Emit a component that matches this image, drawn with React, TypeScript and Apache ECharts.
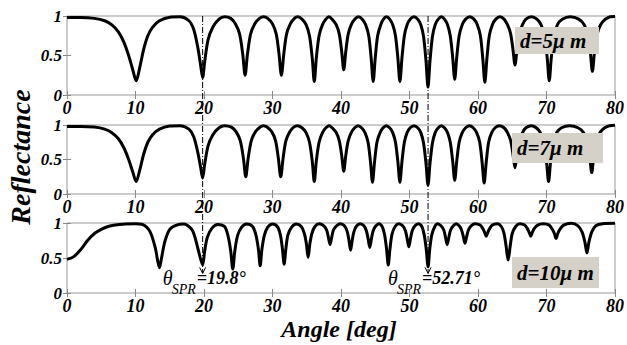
import React, { useEffect, useRef } from "react";
import * as echarts from "echarts";

const angleMin = 0;
const angleMax = 80;
const angleStep = 10;
const reflMin = 0;
const reflMax = 1;
const reflStep = 0.5;
const panelLabels = ["d=5\u03bc m", "d=7\u03bc m", "d=10\u03bc m"];
const sprAngles = [19.8, 52.71];
const sprTexts = ["=19.8\u00b0", "=52.71\u00b0"];
const yTitle = "Reflectance";
const xTitle = "Angle [deg]";

const d5: number[][] = [
  [0, 0.98], [2, 0.98], [4, 0.97], [5.5, 0.94], [6.5, 0.89], [7.5, 0.8], [8.3, 0.67], [9, 0.5], [9.6, 0.32], [10.1, 0.18], [10.6, 0.34], [11.2, 0.58], [11.8, 0.75], [12.5, 0.86], [13.5, 0.94], [15, 0.985], [16.5, 0.99],
  [17.8, 0.94], [18.5, 0.83], [19.1, 0.6], [19.5, 0.38], [19.8, 0.22], [20.1, 0.42], [20.6, 0.7], [21.3, 0.86], [22.2, 0.96], [23, 0.99],
  [23.9, 0.97], [24.6, 0.9], [25.2, 0.77], [25.65, 0.52], [26.0, 0.25], [26.35, 0.52], [26.8, 0.77], [27.4, 0.9], [28.1, 0.97], [28.7, 0.99],
  [29.3, 0.97], [30.0, 0.9], [30.55, 0.77], [30.95, 0.52], [31.3, 0.25], [31.65, 0.52], [32.05, 0.77], [32.6, 0.9], [33.2, 0.97], [33.7, 0.99],
  [34.3, 0.96], [34.9, 0.89], [35.4, 0.75], [35.8, 0.47], [36.1, 0.17], [36.4, 0.47], [36.8, 0.75], [37.3, 0.89], [37.8, 0.96], [38.25, 0.99],
  [38.7, 0.96], [39.3, 0.89], [39.75, 0.77], [40.1, 0.55], [40.4, 0.32], [40.7, 0.55], [41.05, 0.77], [41.5, 0.89], [42.0, 0.96], [42.55, 0.99],
  [43.1, 0.96], [43.6, 0.89], [44.05, 0.75], [44.4, 0.47], [44.7, 0.17], [45.0, 0.47], [45.35, 0.75], [45.8, 0.89], [46.2, 0.96], [46.65, 0.99],
  [47.1, 0.96], [47.55, 0.89], [47.95, 0.75], [48.3, 0.47], [48.6, 0.17], [48.9, 0.47], [49.25, 0.75], [49.65, 0.89], [50.1, 0.96], [50.65, 0.99],
  [51.2, 0.96], [51.65, 0.89], [52.05, 0.74], [52.4, 0.44], [52.7, 0.1], [53.0, 0.44], [53.35, 0.74], [53.75, 0.89], [54.2, 0.96], [54.65, 0.99],
  [55.1, 0.96], [55.55, 0.89], [55.95, 0.75], [56.3, 0.48], [56.6, 0.2], [56.9, 0.48], [57.25, 0.75], [57.7, 0.89], [58.2, 0.96], [58.8, 0.99],
  [59.4, 0.96], [59.9, 0.89], [60.35, 0.75], [60.7, 0.46], [61.0, 0.16], [61.3, 0.46], [61.65, 0.75], [62.1, 0.89], [62.6, 0.96], [63.2, 0.99],
  [63.8, 0.96], [64.3, 0.89], [64.75, 0.78], [65.1, 0.58], [65.4, 0.38], [65.7, 0.58], [66.05, 0.78], [66.5, 0.89], [67.0, 0.96], [67.8, 0.99],
  [68.6, 0.96], [69.2, 0.89], [69.7, 0.75], [70.1, 0.47], [70.4, 0.18], [70.7, 0.47], [71.1, 0.75], [71.6, 0.89], [72.3, 0.96], [73.5, 0.99],
  [74.7, 0.96], [75.5, 0.89], [76.0, 0.77], [76.4, 0.54], [76.7, 0.3], [77.0, 0.54], [77.4, 0.77], [77.9, 0.89], [78.6, 0.96], [79.3, 0.99], [80, 0.995],
];

const d7: number[][] = [
  [0, 0.98], [2, 0.98], [4, 0.97], [5.5, 0.94], [6.5, 0.89], [7.5, 0.8], [8.3, 0.67], [9, 0.5], [9.6, 0.32], [10.1, 0.18], [10.6, 0.34], [11.2, 0.58], [11.8, 0.75], [12.5, 0.86], [13.5, 0.94], [15, 0.985], [16.5, 0.99],
  [17.8, 0.94], [18.5, 0.83], [19.1, 0.6], [19.5, 0.39], [19.8, 0.23], [20.1, 0.43], [20.6, 0.7], [21.3, 0.86], [22.2, 0.96], [23, 0.99],
  [24.0, 0.97], [24.7, 0.9], [25.3, 0.77], [25.75, 0.52], [26.1, 0.25], [26.45, 0.52], [26.9, 0.77], [27.5, 0.9], [28.2, 0.97], [28.7, 0.99],
  [29.2, 0.97], [29.9, 0.9], [30.45, 0.77], [30.85, 0.52], [31.2, 0.25], [31.55, 0.52], [31.95, 0.77], [32.5, 0.9], [33.1, 0.97], [33.65, 0.99],
  [34.3, 0.96], [34.9, 0.89], [35.4, 0.75], [35.8, 0.48], [36.1, 0.18], [36.4, 0.48], [36.8, 0.75], [37.3, 0.89], [37.8, 0.96], [38.25, 0.99],
  [38.7, 0.96], [39.3, 0.89], [39.75, 0.77], [40.1, 0.56], [40.4, 0.33], [40.7, 0.56], [41.05, 0.77], [41.5, 0.89], [42.0, 0.96], [42.5, 0.99],
  [43.0, 0.96], [43.5, 0.89], [43.95, 0.75], [44.3, 0.47], [44.6, 0.17], [44.9, 0.47], [45.25, 0.75], [45.7, 0.89], [46.15, 0.96], [46.6, 0.99],
  [47.1, 0.96], [47.55, 0.89], [47.95, 0.75], [48.3, 0.47], [48.6, 0.17], [48.9, 0.47], [49.25, 0.75], [49.65, 0.89], [50.1, 0.96], [50.65, 0.99],
  [51.2, 0.96], [51.65, 0.89], [52.05, 0.74], [52.4, 0.45], [52.7, 0.13], [53.0, 0.45], [53.35, 0.74], [53.75, 0.89], [54.2, 0.96], [54.65, 0.99],
  [55.1, 0.96], [55.55, 0.89], [55.95, 0.75], [56.3, 0.48], [56.6, 0.2], [56.9, 0.48], [57.25, 0.75], [57.7, 0.89], [58.2, 0.96], [58.75, 0.99],
  [59.3, 0.96], [59.8, 0.89], [60.25, 0.75], [60.6, 0.46], [60.9, 0.16], [61.2, 0.46], [61.55, 0.75], [62.0, 0.89], [62.5, 0.96], [63.1, 0.99],
  [63.8, 0.96], [64.3, 0.89], [64.75, 0.78], [65.1, 0.58], [65.4, 0.38], [65.7, 0.58], [66.05, 0.78], [66.5, 0.89], [67.0, 0.96], [67.8, 0.99],
  [68.5, 0.96], [69.1, 0.89], [69.6, 0.75], [70.0, 0.47], [70.3, 0.18], [70.6, 0.47], [71.0, 0.75], [71.5, 0.89], [72.2, 0.96], [73.4, 0.99],
  [74.6, 0.96], [75.4, 0.89], [75.9, 0.77], [76.3, 0.55], [76.6, 0.31], [76.9, 0.55], [77.3, 0.77], [77.8, 0.89], [78.5, 0.96], [79.2, 0.99], [80, 0.995],
];

const d10: number[][] = [
  [0, 0.48], [1, 0.52], [2, 0.62], [3, 0.75], [4, 0.85], [5, 0.91], [6, 0.95], [7, 0.97], [8.5, 0.985], [10, 0.99], [11, 0.98],
  [12.1, 0.88], [12.9, 0.64], [13.2, 0.48], [13.5, 0.36], [13.8, 0.5], [14.3, 0.74], [15.0, 0.91], [16.0, 0.97], [17.0, 0.985],
  [18.2, 0.91], [18.7, 0.79], [19.2, 0.6], [19.8, 0.4], [20.1, 0.6], [20.5, 0.8], [21.2, 0.93], [22.0, 0.98],
  [23.0, 0.95], [23.5, 0.82], [23.9, 0.6], [24.2, 0.34], [24.5, 0.6], [24.9, 0.82], [25.5, 0.94], [26.2, 0.985],
  [27.1, 0.95], [27.6, 0.82], [27.95, 0.62], [28.2, 0.39], [28.45, 0.62], [28.8, 0.82], [29.3, 0.94], [30.0, 0.985],
  [30.7, 0.95], [31.15, 0.83], [31.45, 0.63], [31.7, 0.41], [31.95, 0.63], [32.25, 0.83], [32.8, 0.94], [33.45, 0.985],
  [34.2, 0.95], [34.65, 0.85], [34.95, 0.7], [35.2, 0.51], [35.45, 0.7], [35.75, 0.85], [36.2, 0.95], [36.8, 0.99],
  [37.5, 0.96], [37.9, 0.9], [38.15, 0.8], [38.4, 0.69], [38.65, 0.8], [38.9, 0.9], [39.35, 0.96], [39.9, 0.99],
  [40.5, 0.96], [40.9, 0.88], [41.15, 0.76], [41.4, 0.61], [41.65, 0.76], [41.9, 0.88], [42.3, 0.96], [42.8, 0.99],
  [43.35, 0.96], [43.7, 0.89], [43.95, 0.78], [44.2, 0.65], [44.45, 0.78], [44.7, 0.89], [45.1, 0.96], [45.55, 0.99],
  [46.0, 0.95], [46.35, 0.84], [46.65, 0.63], [46.9, 0.4], [47.15, 0.63], [47.45, 0.84], [47.9, 0.95], [48.45, 0.99],
  [49.0, 0.96], [49.4, 0.89], [49.65, 0.78], [49.9, 0.66], [50.15, 0.78], [50.4, 0.89], [50.8, 0.96], [51.3, 0.99],
  [51.8, 0.95], [52.15, 0.83], [52.45, 0.62], [52.71, 0.375], [52.95, 0.62], [53.25, 0.83], [53.7, 0.95], [54.1, 0.99],
  [54.6, 0.96], [55.0, 0.9], [55.25, 0.8], [55.5, 0.69], [55.75, 0.8], [56.0, 0.9], [56.4, 0.96], [56.8, 0.99],
  [57.25, 0.96], [57.6, 0.9], [57.85, 0.81], [58.1, 0.71], [58.35, 0.81], [58.6, 0.9], [59.0, 0.96], [59.6, 0.99],
  [60.3, 0.97], [60.7, 0.92], [60.95, 0.87], [61.2, 0.81], [61.45, 0.87], [61.7, 0.92], [62.1, 0.97], [62.8, 0.99],
  [63.4, 0.95], [63.8, 0.85], [64.1, 0.67], [64.4, 0.47], [64.7, 0.67], [65.0, 0.85], [65.5, 0.95], [66.1, 0.99],
  [66.8, 0.97], [67.2, 0.92], [67.45, 0.87], [67.7, 0.81], [67.95, 0.87], [68.2, 0.92], [68.7, 0.97], [69.5, 0.99],
  [70.4, 0.97], [70.85, 0.91], [71.15, 0.85], [71.4, 0.78], [71.65, 0.85], [71.95, 0.91], [72.5, 0.97], [73.6, 0.995],
  [74.6, 0.96], [75.2, 0.87], [75.6, 0.73], [75.9, 0.57], [76.2, 0.73], [76.6, 0.87], [77.2, 0.96], [78.2, 0.99], [80, 0.995],
];

const panels = [d5, d7, d10];

const FONT = "Liberation Serif";

export default function App() {
  const ref = useRef<HTMLDivElement>(null);
  useEffect(() => {
    document.body.style.margin = "0";
    if (!ref.current) return;
    const chart = echarts.init(ref.current, null, { renderer: "svg" });
    const grids = [
      { left: 67, top: 16, width: 549, height: 79 },
      { left: 67, top: 125, width: 549, height: 69 },
      { left: 67, top: 223, width: 549, height: 70 },
    ];
    const xAxes: any[] = [];
    const yAxes: any[] = [];
    const series: any[] = [];
    grids.forEach((g, i) => {
      xAxes.push({
        type: "value", gridIndex: i, min: angleMin, max: angleMax, interval: angleStep,
        axisLine: { show: false }, splitLine: { show: false },
        axisTick: { inside: true, length: 4, lineStyle: { color: "#888" } },
        axisLabel: { color: "#000", fontFamily: FONT, fontWeight: "bold", fontStyle: "italic", fontSize: 18, margin: 4 },
      });
      xAxes.push({
        type: "value", gridIndex: i, position: "top", min: angleMin, max: angleMax, interval: angleStep,
        axisLine: { show: false }, splitLine: { show: false },
        axisTick: { inside: true, length: 4, lineStyle: { color: "#888" } },
        axisLabel: { show: false },
      });
      yAxes.push({
        type: "value", gridIndex: i, min: reflMin, max: reflMax, interval: reflStep,
        axisLine: { show: false }, splitLine: { show: false },
        axisTick: { inside: true, length: 4, lineStyle: { color: "#888" } },
        axisLabel: { color: "#000", fontFamily: FONT, fontWeight: "bold", fontStyle: "italic", fontSize: 17, margin: 5 },
      });
      yAxes.push({
        type: "value", gridIndex: i, position: "right", min: reflMin, max: reflMax, interval: reflStep,
        axisLine: { show: false }, splitLine: { show: false },
        axisTick: { inside: true, length: 4, lineStyle: { color: "#888" } },
        axisLabel: { show: false },
      });
      series.push({
        type: "line", xAxisIndex: 2 * i, yAxisIndex: 2 * i, data: panels[i],
        showSymbol: false, smooth: 0.3, clip: false, silent: true,
        lineStyle: { color: "#000", width: 3 },
      });
    });

    chart.setOption({
      animation: false,
      backgroundColor: "#fff",
      textStyle: { fontFamily: FONT },
      grid: grids.map((g) => ({ ...g, show: true, borderColor: "#999", borderWidth: 1, containLabel: false })),
      xAxis: xAxes,
      yAxis: yAxes,
      series,
    });

    const graphics: any[] = [];
    const legendBoxes = [
      { x: 515, y: 27, w: 84, h: 27 },
      { x: 512, y: 133, w: 91, h: 30 },
      { x: 512, y: 257, w: 87, h: 31 },
    ];
    legendBoxes.forEach((b, i) => {
      graphics.push({ type: "rect", shape: { x: b.x, y: b.y, width: b.w, height: b.h }, style: { fill: "#d5d1c8" }, z: 100 });
      graphics.push({
        type: "text", x: b.x + 5, y: b.y + b.h / 2, z: 101,
        style: { text: panelLabels[i], fontFamily: FONT, fontStyle: "italic", fontWeight: "bold", fontSize: 21, fill: "#000", verticalAlign: "middle" },
      });
    });
    const yTop = chart.convertToPixel({ yAxisIndex: 0 } as any, reflMax) as number;
    const yTip = chart.convertToPixel({ yAxisIndex: 4 } as any, 0.28) as number;
    sprAngles.forEach((a, i) => {
      const px = chart.convertToPixel({ xAxisIndex: 0 } as any, a) as number;
      graphics.push({
        type: "line", z: 90, shape: { x1: px, y1: yTop, x2: px, y2: yTip },
        style: { stroke: "#000", lineWidth: 1, lineDash: [6, 2, 1, 2] },
      });
      graphics.push({
        type: "polyline", z: 90, shape: { points: [[px - 3, yTip - 6], [px, yTip], [px + 3, yTip - 6]] },
        style: { stroke: "#000", lineWidth: 1, fill: "none" },
      });
      graphics.push({
        type: "text", x: px - 40, y: yTip + 5, z: 91,
        style: { text: "\u03b8", fontFamily: FONT, fontStyle: "italic", fontSize: 20, fill: "#000", verticalAlign: "middle" },
      });
      graphics.push({
        type: "text", x: px - 31, y: yTip + 16, z: 91,
        style: { text: "SPR", fontFamily: FONT, fontStyle: "italic", fontSize: 14, fill: "#000", verticalAlign: "middle" },
      });
      graphics.push({
        type: "text", x: px - 6, y: yTip + 5, z: 91,
        style: { text: sprTexts[i], fontFamily: FONT, fontStyle: "italic", fontWeight: "bold", fontSize: 18, fill: "#000", verticalAlign: "middle" },
      });
    });
    graphics.push({
      type: "text", x: 20, y: 157, rotation: Math.PI / 2, z: 100,
      style: { text: yTitle, fontFamily: FONT, fontStyle: "italic", fontWeight: "bold", fontSize: 28, fill: "#000", align: "center", verticalAlign: "middle" },
    });
    graphics.push({
      type: "text", x: 339, y: 329, z: 100,
      style: { text: xTitle, fontFamily: FONT, fontStyle: "italic", fontWeight: "bold", fontSize: 24, fill: "#000", align: "center", verticalAlign: "middle" },
    });
    chart.setOption({ graphic: graphics });

    return () => chart.dispose();
  }, []);
  return <div ref={ref} style={{ width: 627, height: 345 }} />;
}
